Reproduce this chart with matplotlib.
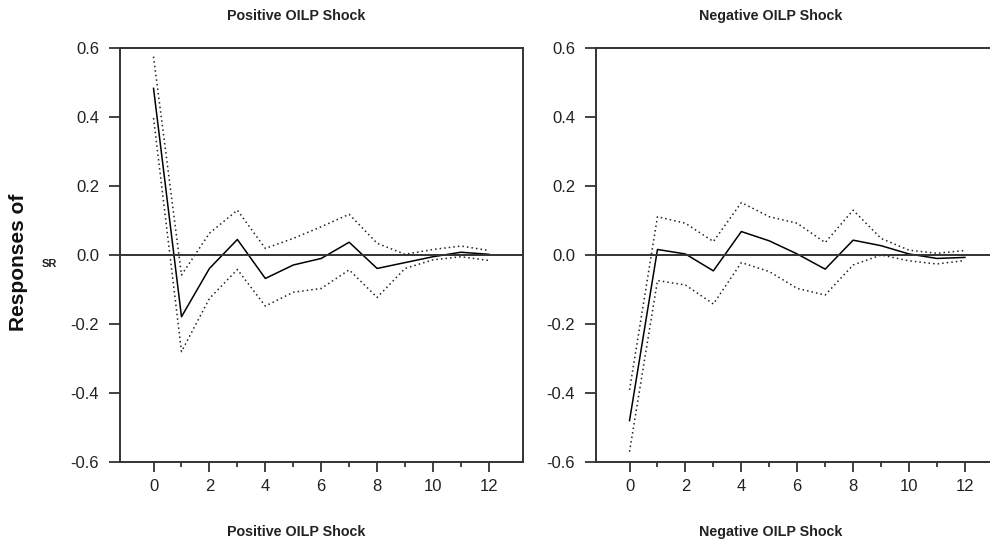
import matplotlib
matplotlib.use("Agg")
import matplotlib.pyplot as plt
from matplotlib.ticker import MultipleLocator, FixedLocator, FormatStrFormatter

plt.rcParams['font.family'] = ['Liberation Sans', 'DejaVu Sans']

horizon = list(range(13))

# positive OILP shock: response and bands
pos_resp = [0.483, -0.179, -0.039, 0.045, -0.068, -0.029, -0.010, 0.037, -0.039, -0.022, -0.005, 0.008, 0.002]
pos_upper = [0.575, -0.058, 0.063, 0.130, 0.019, 0.048, 0.082, 0.118, 0.034, 0.002, 0.016, 0.026, 0.013]
pos_lower = [0.397, -0.280, -0.126, -0.042, -0.148, -0.108, -0.097, -0.043, -0.123, -0.039, -0.014, -0.005, -0.016]

# negative OILP shock
neg_resp = [-0.480, 0.016, 0.003, -0.046, 0.068, 0.041, 0.003, -0.041, 0.043, 0.027, 0.003, -0.010, -0.007]
neg_upper = [-0.391, 0.111, 0.092, 0.039, 0.152, 0.111, 0.092, 0.036, 0.130, 0.048, 0.014, 0.005, 0.013]
neg_lower = [-0.570, -0.074, -0.087, -0.142, -0.022, -0.048, -0.097, -0.116, -0.029, 0.000, -0.017, -0.026, -0.016]

titles = ["Positive OILP Shock", "Negative OILP Shock"]
minor_x = [1, 3, 5, 7, 9, 11]

W, H = 990, 544
fig = plt.figure(figsize=(W / 100, H / 100), dpi=100)

# axes boxes in pixels: left, right, top, bottom
boxes = [(120, 523, 48, 462), (596, 999, 48, 462)]
panels = [(pos_resp, pos_upper, pos_lower), (neg_resp, neg_upper, neg_lower)]
title_x = [296, 771]

spine_col = '#333333'
for (l, r, t, b), (resp, up, lo), title, tx in zip(boxes, panels, titles, title_x):
    ax = fig.add_axes([l / W, 1 - b / H, (r - l) / W, (b - t) / H])
    ax.plot(horizon, resp, color='black', lw=1.1)
    ax.plot(horizon, up, color='#222222', lw=1.1, ls=(0, (1, 2)))
    ax.plot(horizon, lo, color='#222222', lw=1.1, ls=(0, (1, 2)))
    ax.axhline(0, color=spine_col, lw=1.4)
    ax.set_xlim(-1.2, 13.22)
    ax.set_ylim(-0.6, 0.6)
    ax.xaxis.set_major_locator(MultipleLocator(2))
    ax.xaxis.set_minor_locator(FixedLocator(minor_x))
    ax.yaxis.set_major_locator(MultipleLocator(0.2))
    ax.yaxis.set_major_formatter(FormatStrFormatter('%.1f'))
    for s in ax.spines.values():
        s.set_color(spine_col)
        s.set_linewidth(1.4)
    ax.tick_params(axis='both', which='major', direction='out',
                   width=1.3, color=spine_col, labelsize=12, labelcolor='#222222')
    ax.tick_params(axis='x', which='major', length=7.5, pad=5)
    ax.tick_params(axis='x', which='minor', direction='out', length=3.5,
                   width=1.3, color=spine_col)
    ax.tick_params(axis='y', which='major', length=8, pad=7)
    fig.text(tx / W, 1 - 16 / H, title, ha='center', va='center',
             fontsize=10.3, fontweight='bold', color='#222222')
    fig.text(tx / W, 1 - 532 / H, title, ha='center', va='center',
             fontsize=10.3, fontweight='bold', color='#222222')

fig.text(19 / W, 1 - 262 / H, 'Responses of', rotation=90, ha='center',
         va='center', fontsize=15, fontweight='bold', color='#111111')
fig.text(49 / W, 1 - 264 / H, 'SR', ha='center', va='center',
         fontsize=8, fontweight='bold', color='#222222')

fig.savefig('out.png', dpi=100, facecolor='white')
